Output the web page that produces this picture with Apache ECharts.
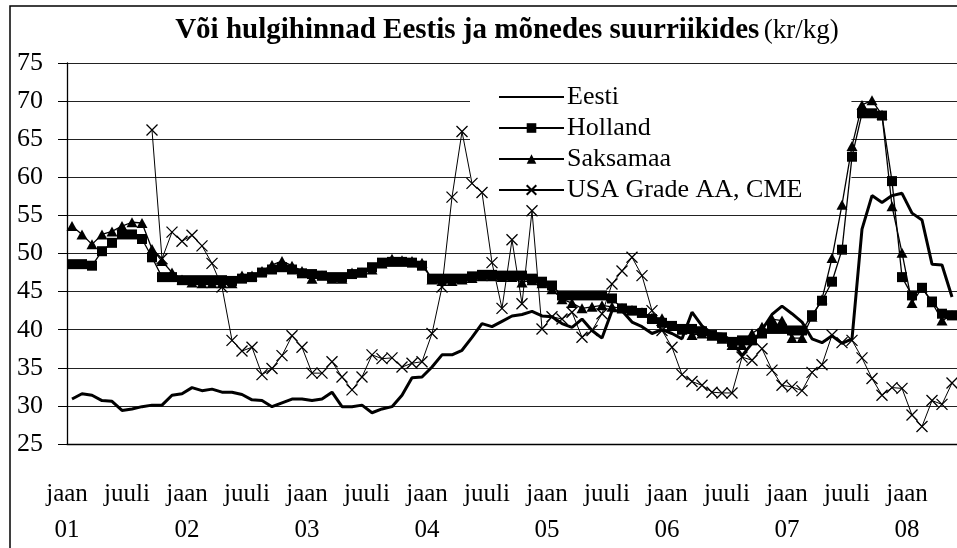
<!DOCTYPE html>
<html>
<head>
<meta charset="utf-8">
<title>Või hulgihinnad</title>
<script src="https://cdn.jsdelivr.net/npm/echarts@6/dist/echarts.min.js"></script>
<style>
  html, body { margin: 0; padding: 0; background: #fff; }
  #main { width: 957px; height: 548px; }
</style>
</head>
<body>
<div id="main"></div>
<script>
// kuud jaan 2001 ... mai 2008
var years = ['01', '02', '03', '04', '05', '06', '07', '08'];
var monthNames = ['jaan', 'veebr', 'märts', 'apr', 'mai', 'juuni', 'juuli', 'aug', 'sept', 'okt', 'nov', 'dets'];
var nMonths = 89;
var categories = [];
for (var k = 0; k < nMonths; k++) {
  categories.push(monthNames[k % 12] + ' ' + years[Math.floor(k / 12)]);
}

var yTicks = [25, 30, 35, 40, 45, 50, 55, 60, 65, 70, 75];

var eesti = [
  30.9, 31.6, 31.4, 30.7, 30.6, 29.4, 29.6, 29.9, 30.1, 30.1, 31.4, 31.6,
  32.4, 32.0, 32.2, 31.8, 31.8, 31.5, 30.8, 30.7, 29.9, 30.4, 30.9, 30.9,
  30.7, 30.9, 31.8, 29.9, 29.9, 30.1, 29.1, 29.6, 29.9, 31.4, 33.7, 33.8,
  35.1, 36.7, 36.7, 37.3, 39.0, 40.8, 40.4, 41.1, 41.8, 42.0, 42.4, 41.8,
  41.7, 40.8, 40.3, 41.4, 39.9, 38.9, 42.5, 42.5, 41.0, 40.4, 39.5, 40.0,
  39.5, 38.8, 42.3, 40.5, 39.5, 39.4, 38.5, 36.6, 38.2, 40.0, 42.0, 43.1,
  42.1, 41.0, 38.8, 38.3, 39.2, 38.2, 38.8, 53.2, 57.6, 56.7, 57.6, 57.9,
  55.3, 54.4, 48.6, 48.5, 44.3
];
var holland = [
  48.6, 48.6, 48.4, 50.3, 51.4, 52.5, 52.5, 51.9, 49.5, 46.9, 46.9, 46.5,
  46.5, 46.5, 46.5, 46.5, 46.4, 46.7, 46.9, 47.5, 47.9, 48.2, 47.9, 47.4,
  47.3, 47.1, 46.9, 46.9, 47.3, 47.5, 48.2, 48.8, 48.9, 48.9, 48.8, 48.4,
  46.7, 46.7, 46.7, 46.7, 47.0, 47.2, 47.2, 47.1, 47.1, 47.1, 46.7, 46.3,
  45.8, 44.5, 44.5, 44.5, 44.5, 44.5, 44.1, 42.8, 42.5, 42.2, 41.4, 40.9,
  40.5, 40.1, 40.1, 39.8, 39.3, 39.0, 38.4, 38.6, 38.6, 39.5, 40.1, 40.1,
  39.9, 39.9, 41.9, 43.8, 46.3, 50.5, 62.7, 68.4, 68.4, 68.1, 59.5, 46.9,
  44.5, 45.5, 43.7, 42.1, 41.9
];
var saksamaa = [
  53.6, 52.5, 51.2, 52.5, 52.9, 53.6, 54.1, 54.0, 50.6, 49.0, 47.5, 46.6,
  46.2, 46.1, 46.1, 46.1, 46.1, 47.1, 47.1, 47.7, 48.5, 49.0, 48.4, 47.7,
  46.7, 47.1, 46.7, 46.7, 47.5, 47.5, 47.9, 48.7, 49.3, 49.1, 49.0, 48.8,
  46.6, 46.4, 46.4, 46.6, 46.8, 47.0, 47.0, 46.9, 46.9, 46.2, 46.5, 46.1,
  45.3, 44.0, 43.5, 42.8, 43.0, 43.2, 43.0, 42.8, 42.6, 42.3, 41.6, 41.5,
  40.5, 40.0, 39.3, 39.5, 39.2, 38.8, 38.0, 38.0, 39.5, 40.4, 41.4, 41.2,
  38.9, 38.9, 41.7, 44.0, 49.4, 56.4, 64.1, 69.5, 70.1, 68.2, 56.2, 50.1,
  43.5, 45.5, 43.6, 41.2, 41.9
];
var usa = [
  null, null, null, null, null, null, null, null, 66.2, 49.3, 52.8, 51.6,
  52.4, 51.0, 48.7, 45.6, 38.6, 37.2, 37.7, 34.1, 34.9, 36.6, 39.2, 37.7,
  34.3, 34.3, 35.8, 33.8, 32.1, 33.8, 36.7, 36.2, 36.3, 35.1, 35.6, 35.8,
  39.5, 45.6, 57.4, 66.0, 59.2, 58.0, 48.8, 42.8, 51.8, 43.4, 55.6, 40.1,
  41.7, 41.4, 42.3, 39.0, 39.9, 42.1, 46.0, 47.7, 49.5, 47.1, 42.5, 39.9,
  37.7, 34.1, 33.2, 32.7, 31.8, 31.7, 31.7, 36.4, 36.0, 37.5, 34.7, 32.7,
  32.5, 32.0, 34.4, 35.4, 39.3, 38.3, 38.6, 36.3, 33.6, 31.4, 32.4, 32.3,
  28.8, 27.3, 30.7, 30.2, 33.0
];

var seriesNames = ['Eesti', 'Holland', 'Saksamaa', 'USA Grade AA, CME'];

var serif = 'Liberation Serif';
var myChart = echarts.init(document.getElementById('main'));

var option = {
  backgroundColor: '#fff',
  animation: false,
  textStyle: { fontFamily: serif, color: '#000' },
  title: {
    text: '{b|Või hulgihinnad Eestis ja mõnedes suurriikides} {n|(kr/kg)}',
    left: 502,
    top: 11,
    textAlign: 'center',
    textStyle: {
      fontWeight: 'normal',
      rich: {
        b: { fontFamily: serif, fontSize: 29, fontWeight: 'bold', color: '#000' },
        n: { fontFamily: serif, fontSize: 27, fontWeight: 'normal', color: '#000' }
      }
    }
  },
  graphic: [{
    type: 'rect',
    shape: { x: 10, y: 6, width: 1000, height: 600 },
    style: { fill: 'none', stroke: '#000', lineWidth: 1.5 },
    silent: true,
    z: -1
  }],
  legend: {
    orient: 'vertical',
    left: 470,
    top: 70,
    padding: [14, 49, 8, 28],
    backgroundColor: '#fff',
    itemWidth: 65,
    itemHeight: 12,
    itemGap: 5,
    data: seriesNames,
    textStyle: { fontFamily: serif, fontSize: 26, color: '#000', lineHeight: 26, padding: [0, 0, 0, -2] },
    z: 1
  },
  grid: { left: 67, top: 63, width: 897, height: 384 },
  xAxis: {
    type: 'category',
    data: categories,
    boundaryGap: true,
    axisLine: { lineStyle: { color: '#000', width: 1.3 } },
    axisTick: { interval: 5, length: 9, lineStyle: { color: '#000' } },
    axisLabel: {
      interval: 5,
      margin: 32,
      fontFamily: serif,
      fontSize: 25,
      lineHeight: 36,
      color: '#000',
      padding: [0, 10, 0, 0],
      formatter: function (v) {
        var p = v.split(' ');
        return p[0] === 'jaan' ? p[0] + '\n' + p[1] : p[0];
      }
    },
    splitLine: { show: false }
  },
  yAxis: {
    type: 'value',
    min: yTicks[0],
    max: yTicks[yTicks.length - 1],
    interval: 5,
    axisLine: { show: true, lineStyle: { color: '#000', width: 1.3 } },
    axisTick: { show: true, length: 9, lineStyle: { color: '#000' } },
    axisLabel: { margin: 24, fontFamily: serif, fontSize: 26, color: '#000' },
    splitLine: { lineStyle: { color: '#222', width: 1 } }
  },
  series: [
    {
      name: seriesNames[0], type: 'line', data: eesti,
      showSymbol: false, symbol: 'circle',
      lineStyle: { color: '#000', width: 3 },
      itemStyle: { color: 'rgba(0,0,0,0)', borderWidth: 0, borderColor: 'rgba(0,0,0,0)' }, z: 2
    },
    {
      name: seriesNames[1], type: 'line', data: holland,
      symbol: 'rect', symbolSize: 10, showAllSymbol: true,
      lineStyle: { color: '#000', width: 1.3 },
      itemStyle: { color: '#000' }, z: 4
    },
    {
      name: seriesNames[2], type: 'line', data: saksamaa,
      symbol: 'triangle', symbolSize: [11, 10], showAllSymbol: true,
      lineStyle: { color: '#000', width: 1.3 },
      itemStyle: { color: '#000' }, z: 3
    },
    {
      name: seriesNames[3], type: 'line', data: usa,
      symbol: 'path://M0,0L10,10M10,0L0,10', symbolSize: 11, showAllSymbol: true,
      lineStyle: { color: '#000', width: 1 },
      itemStyle: { color: 'none', borderColor: '#000', borderWidth: 1.3 }, z: 5
    }
  ]
};
myChart.setOption(option);
</script>
</body>
</html>
